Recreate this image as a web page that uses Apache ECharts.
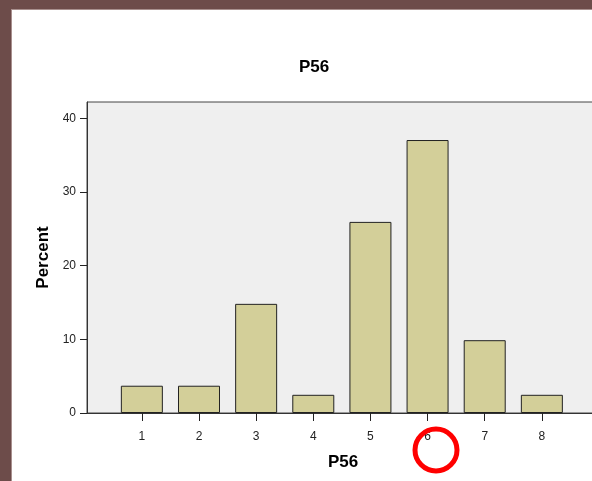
<!DOCTYPE html>
<html>
<head>
<meta charset="utf-8">
<script src="https://cdn.jsdelivr.net/npm/echarts@6/dist/echarts.min.js"></script>
<style>
  html, body { margin: 0; padding: 0; width: 592px; height: 481px; overflow: hidden; background: #6d4c4a; }
  #panel { position: absolute; left: 11px; top: 9px; width: 600px; height: 480px; background: #ffffff; border-left: 1px solid #a8908e; border-top: 1px solid #a8908e; box-sizing: border-box; }
  #chart { position: absolute; left: 0; top: 0; width: 592px; height: 481px; }
</style>
</head>
<body>
<div id="panel"></div>
<div id="chart"></div>
<script>
const categories = [1, 2, 3, 4, 5, 6, 7, 8];
const percents = [3.70, 3.70, 14.81, 2.47, 25.93, 37.04, 9.88, 2.47];
const yTickValues = [0, 10, 20, 30, 40];
const titleText = 'P56';
const xAxisTitle = 'P56';
const yAxisTitle = 'Percent';

const chart = echarts.init(document.getElementById('chart'), null, { renderer: 'canvas' });
const font = 'Liberation Sans, Arial, sans-serif';

chart.setOption({
  backgroundColor: 'transparent',
  animation: false,
  title: {
    text: titleText,
    left: 309,
    top: 54,
    textAlign: 'center',
    textStyle: { fontFamily: font, fontSize: 17, fontWeight: 'bold', color: '#000' }
  },
  grid: {
    left: 87, top: 102, width: 512, height: 311,
    outerBoundsMode: 'none',
    containLabel: false,
    show: true, backgroundColor: '#efefef', borderColor: '#444', borderWidth: 1
  },
  xAxis: {
    type: 'value',
    min: 0.04, max: 9,
    name: xAxisTitle,
    nameLocation: 'middle',
    nameGap: 41,
    nameTextStyle: { fontFamily: font, fontSize: 17, fontWeight: 'bold', color: '#000', padding: [0, 0, 0, 0] },
    splitLine: { show: false },
    axisLine: { show: true, onZero: false, lineStyle: { color: '#333', width: 1 } },
    axisTick: { show: true, length: 8, customValues: categories, lineStyle: { color: '#222' } },
    axisLabel: { customValues: categories, margin: 18, fontFamily: font, fontSize: 12, color: '#222' }
  },
  yAxis: {
    type: 'value',
    min: 0, max: 42.2,
    name: yAxisTitle,
    nameLocation: 'middle',
    nameGap: 32,
    nameRotate: 90,
    nameTextStyle: { fontFamily: font, fontSize: 17, fontWeight: 'bold', color: '#000' },
    splitLine: { show: false },
    axisLine: { show: true, lineStyle: { color: '#333', width: 1 } },
    axisTick: { show: true, length: 7, customValues: yTickValues, lineStyle: { color: '#222' } },
    axisLabel: { customValues: yTickValues, margin: 11, fontFamily: font, fontSize: 12, color: '#222' }
  },
  series: [{
    type: 'bar',
    barWidth: 42,
    data: categories.map((c, i) => [c, percents[i]]),
    itemStyle: { color: '#d3cf99', borderColor: '#222', borderWidth: 1 }
  }],
  graphic: [{
    type: 'circle',
    shape: { cx: 436, cy: 450, r: 21 },
    style: { fill: 'none', stroke: '#ff0000', lineWidth: 5 },
    z: 100
  }]
});
</script>
</body>
</html>
